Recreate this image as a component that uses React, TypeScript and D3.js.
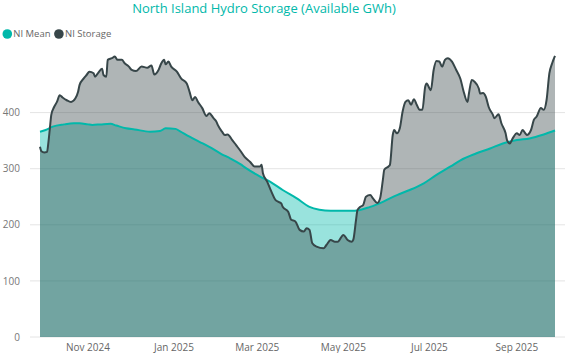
import React from "react";
import * as d3 from "d3";

const storageDates = [
  "2024-09-28","2024-09-29","2024-10-01","2024-10-03","2024-10-04","2024-10-05","2024-10-06","2024-10-08","2024-10-10","2024-10-12",
  "2024-10-14","2024-10-17","2024-10-20","2024-10-23","2024-10-25","2024-10-26","2024-10-29","2024-10-31","2024-11-02","2024-11-05",
  "2024-11-06","2024-11-08","2024-11-11","2024-11-12","2024-11-14","2024-11-15","2024-11-18","2024-11-20","2024-11-22","2024-11-25",
  "2024-11-27","2024-11-30","2024-12-02","2024-12-05","2024-12-09","2024-12-13","2024-12-16","2024-12-18","2024-12-21","2024-12-23",
  "2024-12-25","2024-12-26","2024-12-28","2024-12-30","2025-01-03","2025-01-06","2025-01-10","2025-01-12","2025-01-14","2025-01-16",
  "2025-01-18","2025-01-21","2025-01-24","2025-01-26","2025-01-29","2025-01-31","2025-02-01","2025-02-04","2025-02-06","2025-02-08",
  "2025-02-11","2025-02-14","2025-02-17","2025-02-20","2025-02-24","2025-02-27","2025-03-03","2025-03-04","2025-03-05","2025-03-08",
  "2025-03-11","2025-03-14","2025-03-16","2025-03-18","2025-03-19","2025-03-23","2025-03-25","2025-03-28","2025-03-31","2025-04-03",
  "2025-04-05","2025-04-07","2025-04-09","2025-04-12","2025-04-17","2025-04-19","2025-04-22","2025-04-25","2025-04-27","2025-05-01",
  "2025-05-04","2025-05-07","2025-05-08","2025-05-10","2025-05-11","2025-05-13","2025-05-15","2025-05-17","2025-05-20","2025-05-22",
  "2025-05-25","2025-05-27","2025-05-29","2025-05-30","2025-06-02","2025-06-03","2025-06-05","2025-06-06","2025-06-08","2025-06-10",
  "2025-06-12","2025-06-14","2025-06-16","2025-06-18","2025-06-20","2025-06-22","2025-06-24","2025-06-26","2025-06-28","2025-06-29",
  "2025-07-02","2025-07-04","2025-07-06","2025-07-08","2025-07-10","2025-07-12","2025-07-14","2025-07-17","2025-07-20","2025-07-23",
  "2025-07-25","2025-07-28","2025-07-29","2025-07-31","2025-08-02","2025-08-05","2025-08-06","2025-08-08","2025-08-10","2025-08-12",
  "2025-08-15","2025-08-16","2025-08-19","2025-08-21","2025-08-24","2025-08-25","2025-08-27","2025-08-29","2025-09-01","2025-09-03",
  "2025-09-05","2025-09-07","2025-09-08","2025-09-11","2025-09-13","2025-09-15","2025-09-18","2025-09-20","2025-09-22","2025-09-24",
  "2025-09-26","2025-09-28"
];
const storageValues = [
  339,331,329,330,348,372,396,410,419,431,
  427,422,419,425,437,449,461,467,473,470,
  464,470,478,467,464,494,497,500,494,494,
  488,482,476,474,482,480,484,468,476,488,
  494,486,491,482,473,461,452,437,422,428,
  419,408,394,399,390,384,378,366,360,361,
  352,342,332,321,312,304,304,307,292,277,
  259,244,241,238,232,223,209,206,191,188,
  194,191,167,161,158,164,173,170,170,182,
  173,170,173,209,226,232,235,250,253,247,
  239,247,280,298,304,307,360,369,363,372,
  402,419,422,414,424,414,405,405,446,452,
  440,476,492,491,482,494,497,491,476,460,
  440,419,434,458,455,443,434,435,428,410,
  396,390,397,381,363,351,345,354,363,360,
  369,363,360,369,387,393,408,405,422,470,
  488,501
];

const meanDates = [
  "2024-09-28","2024-10-02","2024-10-07","2024-10-15","2024-10-22","2024-10-26","2024-11-01","2024-11-04","2024-11-10","2024-11-17",
  "2024-11-21","2024-11-28","2024-12-04","2024-12-15","2024-12-22","2024-12-26","2025-01-02","2025-01-05","2025-01-12","2025-01-19",
  "2025-01-26","2025-02-03","2025-02-10","2025-02-17","2025-02-21","2025-03-03","2025-03-10","2025-03-19","2025-03-29","2025-04-07",
  "2025-04-14","2025-04-22","2025-05-01","2025-05-09","2025-05-20","2025-05-29","2025-06-08","2025-06-17","2025-06-27","2025-07-06",
  "2025-07-16","2025-07-23","2025-08-03","2025-08-13","2025-08-22","2025-09-01","2025-09-10","2025-09-20","2025-09-28"
];
const meanValues = [
  366,369,375,379,381,381,379,378,379,380,
  377,372,370,366,367,372,371,367,357,348,
  339,327,318,308,301,286,277,262,247,232,
  227,225,225,225,232,241,253,262,274,289,
  304,315,327,336,345,351,354,361,368
];

const yTicks = [0, 100, 200, 300, 400];
const xTickDates = ["2024-11-01", "2025-01-01", "2025-03-01", "2025-05-01", "2025-07-01", "2025-09-01"];
const xTickLabels = ["Nov 2024", "Jan 2025", "Mar 2025", "May 2025", "Jul 2025", "Sep 2025"];
const seriesNames = ["NI Mean", "NI Storage"];

const parse = d3.timeParse("%Y-%m-%d");
const FONT = "'Segoe UI', 'Open Sans', sans-serif";
const TEAL = "#01B8AA";
const DARK = "#374649";

export default function App() {
  const W = 572, H = 353;
  const x = d3.scaleTime()
    .domain([parse("2024-09-28")!, parse("2025-09-28")!])
    .range([40, 555]);
  const y = d3.scaleLinear().domain([0, 500]).range([337, 56.5]);

  const storage = storageDates.map((d, i) => ({ d: parse(d)!, v: storageValues[i] }));
  const mean = meanDates.map((d, i) => ({ d: parse(d)!, v: meanValues[i] }));

  const area = d3.area<{ d: Date; v: number }>()
    .x(p => x(p.d)).y0(y(0)).y1(p => y(p.v)).curve(d3.curveMonotoneX);
  const line = d3.line<{ d: Date; v: number }>()
    .x(p => x(p.d)).y(p => y(p.v)).curve(d3.curveMonotoneX);

  return (
    <svg width={W} height={H} style={{ position: "absolute", left: 0, top: 0, background: "#fff" }} fontFamily={FONT}>
      <text x={264} y={13} textAnchor="middle" fontSize={13} fill={TEAL}>
        North Island Hydro Storage (Available GWh)
      </text>
      <g fontSize={9.5} fill="#666">
        <circle cx={7.3} cy={34} r={4.8} fill={TEAL} />
        <text x={13.3} y={37.4}>{seriesNames[0]}</text>
        <circle cx={58.9} cy={34} r={4.8} fill={DARK} />
        <text x={65} y={37.4}>{seriesNames[1]}</text>
      </g>
      {yTicks.map(t => (
        <g key={t}>
          <line x1={30} x2={565} y1={y(t)} y2={y(t)} stroke="#e4e4e4" strokeWidth={1} />
          <text x={20} y={y(t) + 3.6} textAnchor="end" fontSize={10} fill="#777">{t}</text>
        </g>
      ))}
      <path d={area(mean)!} fill={TEAL} fillOpacity={0.4} />
      <path d={area(storage)!} fill={DARK} fillOpacity={0.4} />
      <path d={line(mean)!} fill="none" stroke={TEAL} strokeWidth={2} />
      <path d={line(storage)!} fill="none" stroke={DARK} strokeWidth={2} />
      {xTickDates.map((d, i) => (
        <text key={d} x={x(parse(d)!)} y={350.5} textAnchor="middle" fontSize={10} fill="#666">{xTickLabels[i]}</text>
      ))}
    </svg>
  );
}
